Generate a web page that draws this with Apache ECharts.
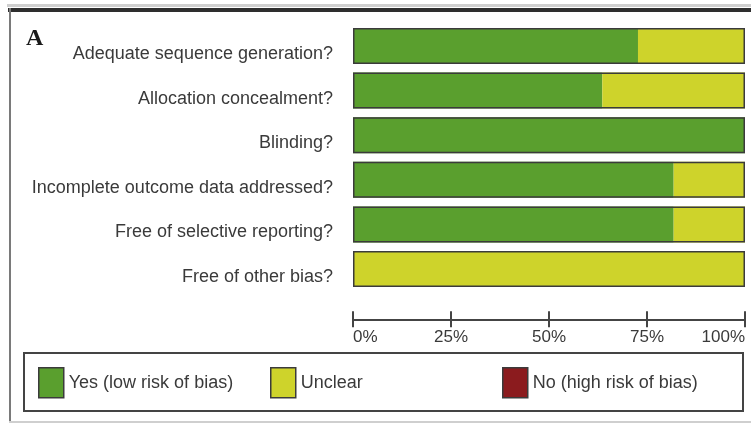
<!DOCTYPE html>
<html>
<head>
<meta charset="utf-8">
<script src="https://cdn.jsdelivr.net/npm/echarts@6/dist/echarts.min.js"></script>
<style>
  html, body { margin: 0; padding: 0; background: #fff; }
  #chart { width: 751px; height: 425px; }
</style>
</head>
<body>
<div id="chart"></div>
<script>
// Risk-of-bias domains (top to bottom) and share of studies per judgement, in percent
const domains = [
  'Adequate sequence generation?',
  'Allocation concealment?',
  'Blinding?',
  'Incomplete outcome data addressed?',
  'Free of selective reporting?',
  'Free of other bias?'
];
const lowRisk  = [72.7, 63.6, 100, 81.8, 81.8, 0];
const unclear  = [27.3, 36.4, 0, 18.2, 18.2, 100];
const highRisk = [0, 0, 0, 0, 0, 0];
const tickValues = [0, 25, 50, 75, 100];
const legendNames = ['Yes (low risk of bias)', 'Unclear', 'No (high risk of bias)'];

const totals = domains.map((_, i) => lowRisk[i] + unclear[i] + highRisk[i]);

const GREEN = '#5a9f2e';
const YELLOW = '#ced32b';
const RED = '#8b1b1e';
const EDGE = '#3b3b3b';
const FONT = '"Liberation Sans", Arial, sans-serif';

const chart = echarts.init(document.getElementById('chart'), null, { renderer: 'canvas' });

const segment = (name, data, color) => ({
  name, type: 'bar', stack: 'share', data,
  barWidth: 36,
  itemStyle: { color },
  silent: true
});

// one legend entry per column of the key box
const legendEntry = (name, left) => ({
  data: [name],
  left, top: 367, padding: 0,
  itemWidth: 25, itemHeight: 30, itemGap: 5,
  icon: 'rect',
  itemStyle: { borderColor: EDGE, borderWidth: 1.5 },
  textStyle: { color: '#3a3a3a', fontFamily: FONT, fontSize: 18 },
  selectedMode: false
});

chart.setOption({
  animation: false,
  backgroundColor: '#fff',
  grid: { left: 353, right: 6, top: 23.7, height: 267.6, containLabel: false },
  xAxis: [
    {
      type: 'value', min: 0, max: 100, interval: 25,
      offset: 28,
      splitLine: { show: false },
      axisLine: { show: true, lineStyle: { color: '#444', width: 2 } },
      axisTick: { show: true, length: 8, lineStyle: { color: '#444', width: 2 } },
      axisLabel: {
        margin: 10, color: '#3a3a3a', fontFamily: FONT, fontSize: 17,
        alignMinLabel: 'left', alignMaxLabel: 'right',
        formatter: v => tickValues.includes(v) ? v + '%' : ''
      }
    },
    {
      // upward half of the tick marks
      type: 'value', min: 0, max: 100, interval: 25,
      position: 'bottom', offset: 28,
      splitLine: { show: false },
      axisLine: { show: false },
      axisTick: { show: true, inside: true, length: 8, lineStyle: { color: '#444', width: 2 } },
      axisLabel: { show: false }
    }
  ],
  yAxis: {
    type: 'category', data: domains, inverse: true,
    axisLine: { show: false }, axisTick: { show: false },
    axisLabel: {
      margin: 20, color: '#3a3a3a', fontFamily: FONT, fontSize: 18,
      verticalAlign: 'top', lineHeight: 16
    }
  },
  legend: [
    legendEntry(legendNames[0], 38),
    legendEntry(legendNames[1], 270),
    legendEntry(legendNames[2], 502)
  ],
  series: [
    segment(legendNames[0], lowRisk, GREEN),
    segment(legendNames[1], unclear, YELLOW),
    segment(legendNames[2], highRisk, RED),
    {
      name: 'outline', type: 'bar', stack: 'outline', data: totals,
      barWidth: 36, barGap: '-100%',
      itemStyle: { color: 'rgba(0,0,0,0)', borderColor: EDGE, borderWidth: 1.5 },
      silent: true, z: 3
    }
  ],
  graphic: [
    // panel frame
    { type: 'rect', shape: { x: 7, y: 4, width: 744, height: 3 }, style: { fill: '#cfcfcf' }, silent: true },
    { type: 'rect', shape: { x: 8, y: 8, width: 743, height: 4 }, style: { fill: '#2e2e2e' }, silent: true },
    { type: 'rect', shape: { x: 9, y: 8, width: 2, height: 414 }, style: { fill: '#7a7a7a' }, silent: true },
    { type: 'rect', shape: { x: 9, y: 421, width: 742, height: 2 }, style: { fill: '#cfcfcf' }, silent: true },
    // panel letter
    { type: 'text', left: 26, top: 27, style: { text: 'A', fill: '#1a1a1a', font: 'bold 24px "Liberation Serif", "Times New Roman", serif' }, silent: true },
    // legend box
    { type: 'rect', shape: { x: 24, y: 353, width: 719, height: 58 }, style: { fill: 'none', stroke: '#444', lineWidth: 2 }, silent: true }
  ]
});
</script>
</body>
</html>
